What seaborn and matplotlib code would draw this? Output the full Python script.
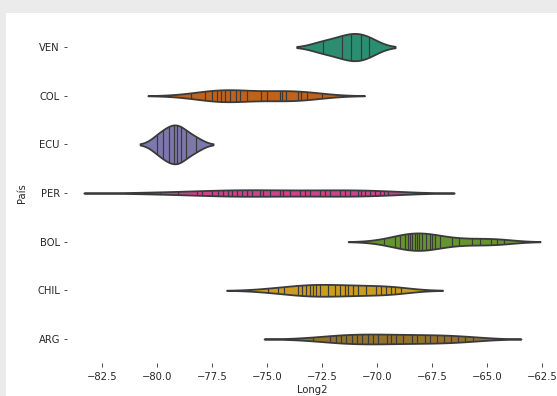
import matplotlib
matplotlib.use("Agg")
import matplotlib.pyplot as plt
from matplotlib.patches import Rectangle
import numpy as np
import pandas as pd
import seaborn as sns

# Longitudes of sampled sites per country
paises = ["VEN", "COL", "ECU", "PER", "BOL", "CHIL", "ARG"]

long_ven = [-72.48, -71.61, -71.21, -70.75, -70.37]
long_col = [-78.47, -77.83, -77.52, -77.30, -77.12, -76.93, -76.69, -76.42,
            -76.24, -75.91, -75.29, -75.01, -74.40, -74.31, -74.13, -73.60,
            -73.45, -73.21, -72.53]
long_ecu = [-80.02, -79.72, -79.45, -79.24, -79.12, -78.94, -78.67, -78.22]
long_per = [-80.33, -79.87, -79.04, -78.20, -77.98, -77.52, -77.23, -76.99,
            -76.77, -76.61, -76.39, -76.16, -75.93, -75.71, -75.34, -75.19,
            -74.88, -74.43, -74.27, -73.97, -73.51, -73.29, -73.06, -72.61,
            -72.38, -72.16, -71.70, -71.47, -71.25, -70.88, -70.72, -70.57,
            -70.34, -70.12, -69.89, -69.67, -69.51]
long_bol = [-69.67, -69.19, -68.96, -68.73, -68.60, -68.51, -68.43, -68.29,
            -68.20, -68.10, -67.95, -67.80, -67.60, -67.49, -67.37, -67.14,
            -66.61, -66.30, -65.69, -65.31, -64.85, -64.55, -64.25]
long_chil = [-74.97, -74.51, -74.24, -73.60, -73.42, -73.23, -73.07, -72.92,
             -72.77, -72.61, -72.24, -71.93, -71.70, -71.48, -71.33, -71.10,
             -70.87, -70.50, -70.04, -69.82, -69.59, -69.36, -69.21, -68.91]
long_arg = [-72.94, -72.16, -71.89, -71.65, -71.40, -71.16, -70.92, -70.68,
            -70.44, -70.20, -69.95, -69.55, -69.39, -69.15, -68.82, -68.42,
            -68.18, -67.85, -67.61, -67.29, -66.97, -66.64, -66.32, -66.00,
            -65.67]

valores = [long_ven, long_col, long_ecu, long_per, long_bol, long_chil, long_arg]
df = pd.DataFrame({
    "País": np.repeat(paises, [len(v) for v in valores]),
    "Long2": np.concatenate(valores),
})

sns.set_style("ticks")
plt.rcParams["font.family"] = ["DejaVu Sans"]

W, H, DPI = 557, 396, 72
fig = plt.figure(figsize=(W / DPI, H / DPI), dpi=DPI, facecolor="#ebebeb")
fig.patches.append(Rectangle((6 / W, 0), 1 - 6 / W, 1 - 13 / H,
                             transform=fig.transFigure, facecolor="white",
                             edgecolor="none", zorder=-1))
ax = fig.add_axes([67 / W, 0.0826, (W - 67) / W, 0.860])
ax.set_facecolor("none")

sns.violinplot(data=df, x="Long2", y="País", hue="País", order=paises,
               hue_order=paises, palette="Dark2", inner="stick",
               common_norm=True, linewidth=1.8, linecolor="#3a3a3a",
               legend=False, inner_kws=dict(linewidth=1.2, color="#3a3a3a"),
               ax=ax)

ax.set_xlim(-84.1, -61.83)
ax.set_xticks([-82.5, -80.0, -77.5, -75.0, -72.5, -70.0, -67.5, -65.0, -62.5])
ax.tick_params(axis="x", pad=5.5)
sns.despine(ax=ax, left=True, bottom=True)
ax.xaxis.labelpad = 2.5
ax.yaxis.labelpad = 10

fig.savefig("out.png", dpi=DPI, facecolor=fig.get_facecolor())
